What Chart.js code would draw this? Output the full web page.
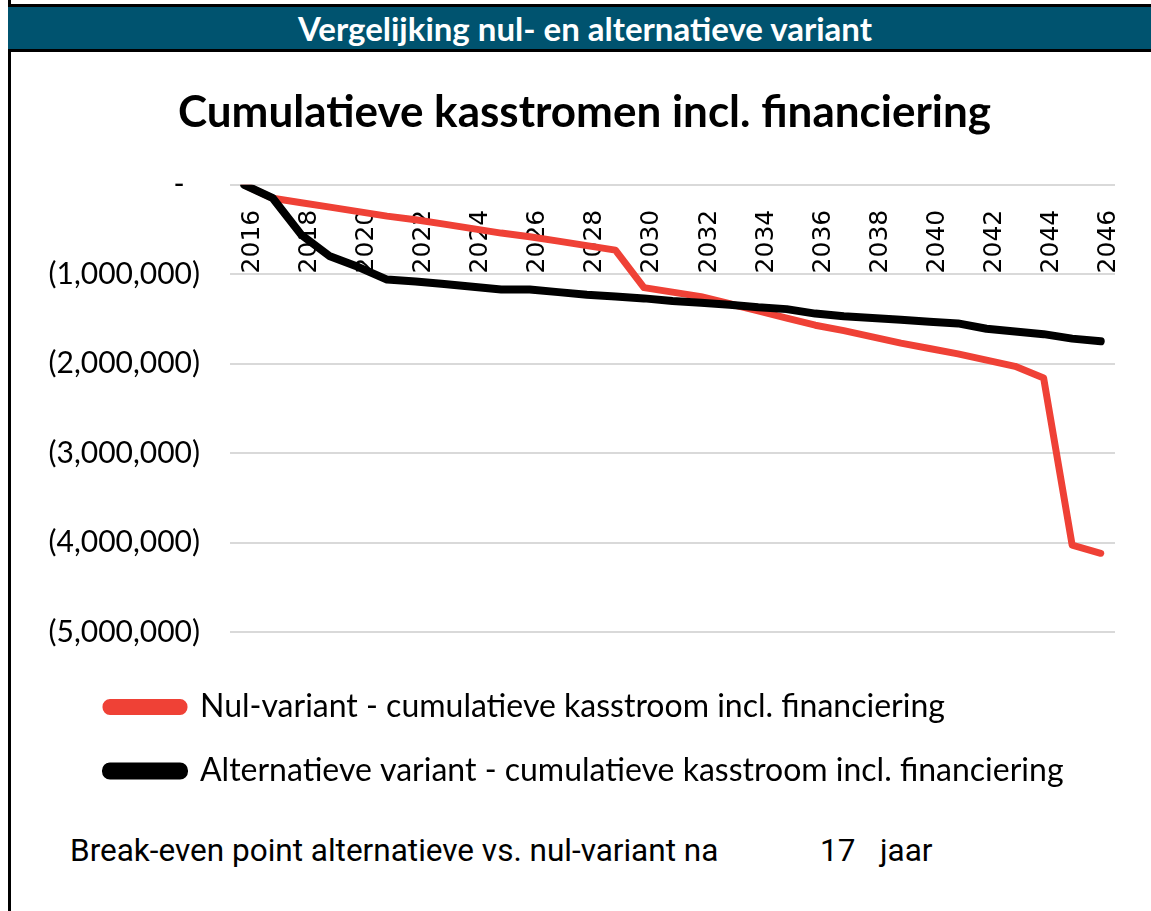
<!DOCTYPE html>
<html>
<head>
<meta charset="utf-8">
<script src="https://cdn.jsdelivr.net/npm/chart.js@4/dist/chart.umd.min.js"></script>
<style>
  html, body { margin: 0; padding: 0; background: #fff; }
  body { width: 1151px; height: 911px; position: relative; overflow: hidden; font-family: Lato, 'Open Sans', sans-serif; }
  .vline { position: absolute; left: 8px; top: 0; width: 3px; height: 911px; background: #000; }
  .band {
    position: absolute; left: 8px; top: 4px; width: 1132px; height: 42px;
    background: #00536f; border-top: 3px solid #000; border-bottom: 3px solid #000;
    color: #fff; font: bold 33px Lato, sans-serif; line-height: 42px;
    text-align: center; box-sizing: content-box; padding-left: 11px;
  }
  #wrap { position: absolute; left: 0; top: 51px; width: 1151px; height: 754px; }
  .foot { position: absolute; top: 832px; font: 31.5px 'Liberation Sans Narrow', 'Roboto', sans-serif; color: #000; white-space: nowrap; }
</style>
</head>
<body>
<div class="vline"></div>
<div class="band">Vergelijking nul- en alternatieve variant</div>
<div id="wrap"><canvas id="chart"></canvas></div>
<div class="foot" style="left:70px">Break-even point alternatieve vs. nul-variant na</div>
<div class="foot" style="left:820px">17</div>
<div class="foot" style="left:880px">jaar</div>
<script>
// Cumulatieve kasstromen per jaar (EUR)
const years = [
  '2016', '2017', '2018', '2019', '2020', '2021', '2022', '2023', '2024', '2025',
  '2026', '2027', '2028', '2029', '2030', '2031', '2032', '2033', '2034', '2035',
  '2036', '2037', '2038', '2039', '2040', '2041', '2042', '2043', '2044', '2045', '2046',
];
const nulVariant = [
  0, -150000, -200000, -250000, -300000, -350000, -390000, -440000, -490000, -540000,
  -580000, -630000, -680000, -730000, -1150000, -1200000, -1250000, -1330000, -1410000, -1490000,
  -1570000, -1630000, -1700000, -1770000, -1830000, -1890000, -1960000, -2030000, -2160000, -4030000, -4120000,
];
const altVariant = [
  0, -150000, -560000, -800000, -920000, -1060000, -1080000, -1110000, -1140000, -1170000,
  -1170000, -1200000, -1230000, -1250000, -1270000, -1300000, -1320000, -1340000, -1370000, -1390000,
  -1440000, -1470000, -1490000, -1510000, -1530000, -1550000, -1610000, -1640000, -1670000, -1720000, -1750000,
];
const seriesLabels = [
  'Nul-variant - cumulatieve kasstroom incl. financiering',
  'Alternatieve variant - cumulatieve kasstroom incl. financiering',
];
const yMin = -5000000;
const yMax = 0;
const yStep = 1000000;

const RED = '#ef4136';
const BLACK = '#000000';

// Excel accounting style: negatives in brackets, zero as a dash
const fmtAcc = (v) => v === 0 ? '-  ' : (v < 0 ? '(' + Math.abs(v).toLocaleString('en-US') + ')' : v.toLocaleString('en-US'));

// legend and title sit further right than the y-axis labels; nudge them after layout
const blockIndent = {
  id: 'blockIndent',
  afterLayout(chart) {
    if (chart.legend) chart.legend.left = 74;
    if (chart.titleBlock) chart.titleBlock.left += 44;
  },
};

new Chart(document.getElementById('chart'), {
  type: 'line',
  data: {
    labels: years,
    datasets: [
      {
        label: seriesLabels[0], data: nulVariant,
        borderColor: RED, backgroundColor: RED, borderWidth: 7,
        pointRadius: 0, tension: 0, fill: false, order: 2,
        borderCapStyle: 'round', borderJoinStyle: 'round',
      },
      {
        label: seriesLabels[1], data: altVariant,
        borderColor: BLACK, backgroundColor: BLACK, borderWidth: 8,
        pointRadius: 0, tension: 0, fill: false, order: 1,
        borderCapStyle: 'round', borderJoinStyle: 'round',
      },
    ],
  },
  plugins: [blockIndent],
  options: {
    responsive: true, maintainAspectRatio: false, animation: false,
    layout: { padding: { left: 10, right: 36, top: 0, bottom: 8 } },
    plugins: {
      tooltip: { enabled: false },
      title: {
        display: true, text: 'Cumulatieve kasstromen incl. financiering', color: '#000',
        font: { family: 'Lato', size: 44, weight: 'bold' },
        padding: { top: 35, bottom: 46 },
      },
      legend: {
        position: 'bottom', align: 'start',
        title: { display: true, text: '', font: { size: 1, lineHeight: 1 }, padding: { top: 26, bottom: 0 } },
        labels: {
          color: '#000', font: { family: 'Lato', size: 32 },
          boxWidth: 78, boxHeight: 9, padding: 32,
          useBorderRadius: true, borderRadius: 4,
          sort: (a, b) => a.datasetIndex - b.datasetIndex,
        },
      },
    },
    scales: {
      x: {
        type: 'category', position: { y: 0 }, offset: true,
        afterFit: (scale) => { scale.paddingLeft = 0; scale.paddingRight = 0; },
        grid: { display: false, drawTicks: false }, border: { display: false },
        ticks: {
          autoSkip: false, minRotation: 90, maxRotation: 90, padding: 25, labelOffset: 8,
          color: '#000', font: { family: 'DejaVu Sans', size: 25 },
          callback: function (v, i) { return i % 2 === 0 ? this.getLabelForValue(v) : ''; },
        },
      },
      y: {
        min: yMin, max: yMax,
        afterFit: (scale) => { scale.width = 220; },
        grid: { color: '#d9d9d9', lineWidth: 2, drawTicks: false }, border: { display: false },
        ticks: {
          stepSize: yStep, padding: 30, color: '#000',
          font: { family: 'Lato', size: 30 },
          callback: (v) => fmtAcc(v),
        },
      },
    },
  },
});
</script>
</body>
</html>
